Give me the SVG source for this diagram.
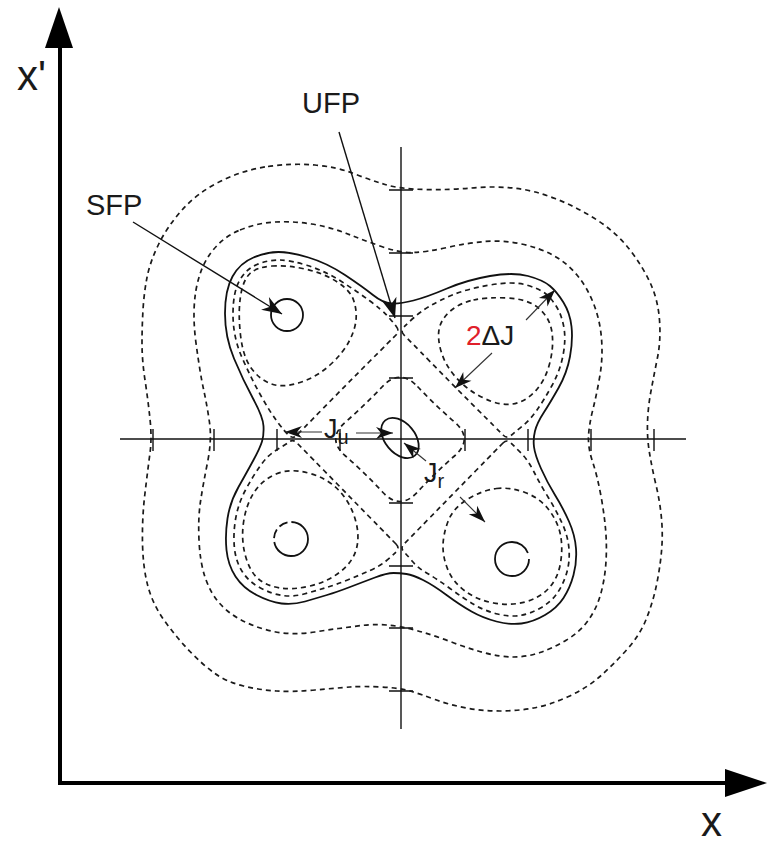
<svg xmlns="http://www.w3.org/2000/svg" width="773" height="845" viewBox="0 0 773 845">
<style>
.dash{fill:none;stroke:#1a1a1a;stroke-width:1.7;stroke-dasharray:5 4}
.sol{fill:none;stroke:#111;stroke-width:1.8}
.thin{fill:none;stroke:#111;stroke-width:1.4}
.arr{fill:none;stroke:#111;stroke-width:1.4;marker-end:url(#ah)}
.arrs{fill:none;stroke:#333;stroke-width:1.1;marker-end:url(#ahs)}
.lbl{font-family:"Liberation Sans",Arial,sans-serif;fill:#1a1a1a}
</style>
<defs>
<marker id="ah" viewBox="-21 -8 22 16" markerWidth="22" markerHeight="16" refX="0" refY="0" orient="auto" markerUnits="userSpaceOnUse">
<path d="M0,0 L-20,-7.5 L-14,0 L-20,7.5 Z" fill="#111"/>
</marker>
<marker id="ahs" viewBox="-18 -7 19 14" markerWidth="19" markerHeight="14" refX="0" refY="0" orient="auto" markerUnits="userSpaceOnUse">
<path d="M0,0 L-17,-6 L-12,0 L-17,6 Z" fill="#111"/>
</marker>
</defs>
<rect width="773" height="845" fill="#fff"/>

<g id="main-axes">
<line x1="60" y1="40" x2="60" y2="785" stroke="#000" stroke-width="4"/>
<line x1="58" y1="783" x2="730" y2="783" stroke="#000" stroke-width="4"/>
<polygon points="59,7 45,48 73,48" fill="#000"/>
<polygon points="767,783 725,769 725,797" fill="#000"/>
<text class="lbl" x="17" y="90" font-size="42">x'</text>
<text class="lbl" x="701" y="836" font-size="42">x</text>
</g>

<g id="crosshair">
<line class="thin" x1="401" y1="147" x2="401" y2="729"/>
<line class="thin" x1="120" y1="439" x2="686" y2="439"/>
<path class="thin" d="M389,190H413M389,253H413M389,316H413M389,378H413M389,503H413M389,566H413M389,628H413M389,691H413"/>
<path class="thin" d="M153,429V451M214,429V451M277,429V451M340,429V451M465,429V451M528,429V451M591,429V451M654,429V451"/>
</g>

<g id="ring-outer">
<path class="dash" d="M268,166.5 Q293,163 315,165 Q337,167 353.5,173.5 Q370,180 385,184.5 Q400,189 425,189.5 Q450,190 471.5,188 Q493,186 513,188 Q533,190 555,198.5 Q577,207 597,220 Q617,233 630,250 Q643,267 650.5,283.5 Q658,300 659.5,320 Q661,340 657.5,357.5 Q654,375 651,391 Q648,407 647.5,422.5 Q647,438 649.5,453 Q652,468 656,485 Q660,502 661.5,518.5 Q663,535 661.5,551.5 Q660,568 656.5,585 Q653,602 646.5,618.5 Q640,635 626.5,650 Q613,665 600,676.5 Q587,688 568.5,696.5 Q550,705 533.5,708 Q517,711 500,711 Q483,711 466.5,708 Q450,705 435,699.5 Q420,694 410,691 Q400,688 381.5,687 Q363,686 350,687 Q337,688 315,690 Q293,692 276.5,691 Q260,690 243.5,686 Q227,682 215,673.5 Q203,665 190,651.5 Q177,638 165,621.5 Q153,605 148,586.5 Q143,568 142.5,543 Q142,518 145,493 Q148,468 150,453 Q152,438 150,419 Q148,400 145,380 Q142,360 142,343.5 Q142,327 143,310 Q144,293 147,277.5 Q150,262 158.5,244.5 Q167,227 182,210 Q197,193 220,181.5 Q243,170 268,166.5 Z"/>
</g>
<g id="ring-second">
<path class="dash" d="M240,230 Q257,223 275,222 Q293,221 311.5,224 Q330,227 346.5,233.5 Q363,240 381.5,246.5 Q400,253 413.5,252.5 Q427,252 447,247.5 Q467,243 485,241.5 Q503,240 521.5,244 Q540,248 553.5,255.5 Q567,263 577,275 Q587,287 593.5,303.5 Q600,320 601.5,338.5 Q603,357 600,375 Q597,393 593,409 Q589,425 588.5,436.5 Q588,448 592.5,461.5 Q597,475 600.5,493.5 Q604,512 605.5,528.5 Q607,545 606,561.5 Q605,578 601,593 Q597,608 588.5,620 Q580,632 566.5,640 Q553,648 540,652.5 Q527,657 513.5,657 Q500,657 483.5,652.5 Q467,648 450,641.5 Q433,635 416.5,630.5 Q400,626 386.5,625 Q373,624 361.5,625.5 Q350,627 338.5,628.5 Q327,630 315,632 Q303,634 290,633.5 Q277,633 263.5,629 Q250,625 238.5,618.5 Q227,612 218.5,602 Q210,592 205,577 Q200,562 199,540 Q198,518 200.5,501.5 Q203,485 207.5,462.5 Q212,440 209.5,422.5 Q207,405 203.5,389 Q200,373 196,343 Q192,313 196,290 Q200,267 211.5,252 Q223,237 240,230 Z"/>
</g>
<g id="separatrix">
<path class="sol" d="M391.5,303.5 Q400,304 413.5,300.5 Q427,297 447,288.5 Q467,280 490,276 Q513,272 528,276 Q543,280 550,286 Q557,292 563.5,302.5 Q570,313 571.5,326.5 Q573,340 570,356.5 Q567,373 558.5,388 Q550,403 543.5,413 Q537,423 535,431 Q533,439 534,447 Q535,455 541,468.5 Q547,482 555,495 Q563,508 569,521.5 Q575,535 576,548.5 Q577,562 573.5,575 Q570,588 563.5,598 Q557,608 545,615 Q533,622 521.5,623.5 Q510,625 496.5,621.5 Q483,618 471.5,611.5 Q460,605 446.5,595 Q433,585 423,580 Q413,575 406.5,574 Q400,573 393.5,573 Q387,573 375,577.5 Q363,582 350,587 Q337,592 327,595 Q317,598 305,601.5 Q293,605 281.5,603.5 Q270,602 256.5,595 Q243,588 235.5,576.5 Q228,565 226.5,550 Q225,535 227.5,518.5 Q230,502 238.5,487 Q247,472 253.5,460 Q260,448 262,441.5 Q264,435 263.5,426 Q263,417 253,398.5 Q243,380 234,358.5 Q225,337 225,313.5 Q225,290 232.5,276.5 Q240,263 253.5,257.5 Q267,252 278.5,252 Q290,252 308.5,257.5 Q327,263 345,275 Q363,287 373,295 Q383,303 391.5,303.5 Z"/>
</g>

<g id="lobe-tl">
<path class="dash" d="M396,326 Q400,331 396,335 Q392,339 369,362 Q346,385 323,408.5 Q300,432 296.5,435.5 Q293,439 289,435.5 Q285,432 277.5,422 Q270,412 260.5,395 Q251,378 242,357.5 Q233,337 233,314.5 Q233,292 239.5,280.5 Q246,269 257,264.5 Q268,260 279,260 Q290,260 307.5,265.5 Q325,271 341.5,281.5 Q358,292 370,301 Q382,310 387,315.5 Q392,321 396,326 Z"/>
<path class="dash" d="M272,266 Q287,265 305,269 Q323,273 336.5,281.5 Q350,290 353.5,300 Q357,310 356,320 Q355,330 349,341.5 Q343,353 330,365 Q317,377 300,382.5 Q283,388 271.5,384 Q260,380 251.5,368.5 Q243,357 240.5,335 Q238,313 240.5,296.5 Q243,280 250,273.5 Q257,267 272,266 Z"/>
<circle class="sol" cx="287" cy="315" r="16"/>
</g>
<g id="lobe-tr">
<path class="dash" d="M404,335 Q400,331 404,327 Q408,323 414,317.5 Q420,312 430,306 Q440,300 453.5,294.5 Q467,289 490,285 Q513,281 526.5,285 Q540,289 546,294 Q552,299 557,307.5 Q562,316 564,328 Q566,340 563,355.5 Q560,371 552,385.5 Q544,400 537,410 Q530,420 522.5,426 Q515,432 511,435.5 Q507,439 503,435 Q499,431 476,408 Q453,385 430.5,362 Q408,339 404,335 Z"/>
<path class="dash" d="M473.5,300 Q487,297 507.5,298 Q528,299 539,308.5 Q550,318 552,332.5 Q554,347 549.5,364 Q545,381 535,391.5 Q525,402 512.5,404 Q500,406 483.5,398 Q467,390 456,377.5 Q445,365 441,351 Q437,337 439.5,327.5 Q442,318 451,310.5 Q460,303 473.5,300 Z"/>
</g>
<g id="lobe-br">
<path class="dash" d="M503,443 Q507,439 511,443 Q515,447 521.5,453.5 Q528,460 534,472 Q540,484 548,497 Q556,510 562,523 Q568,536 569,549 Q570,562 566.5,573.5 Q563,585 557,593.5 Q551,602 540.5,608 Q530,614 520,615.5 Q510,617 497.5,614 Q485,611 474,604.5 Q463,598 450,588.5 Q437,579 427.5,573.5 Q418,568 413,562 Q408,556 404,552 Q400,548 404,544 Q408,540 430.5,517 Q453,494 476,470.5 Q499,447 503,443 Z"/>
<path class="dash" d="M496.5,488.5 Q510,487 525,492.5 Q540,498 549,510 Q558,522 560.5,535 Q563,548 560.5,563 Q558,578 549,588 Q540,598 525,602 Q510,606 493.5,603 Q477,600 465,591 Q453,582 448,570 Q443,558 443,546.5 Q443,535 448,521.5 Q453,508 468,499 Q483,490 496.5,488.5 Z"/>
<circle class="sol" cx="512" cy="559" r="17" stroke-dasharray="100 7"/>
</g>
<g id="lobe-bl">
<path class="dash" d="M396,544 Q400,548 396,552 Q392,556 386,561 Q380,566 370,570.5 Q360,575 347.5,580 Q335,585 325,588 Q315,591 304,594 Q293,597 282.5,595.5 Q272,594 260.5,588 Q249,582 242.5,572 Q236,562 234.5,548.5 Q233,535 235.5,519.5 Q238,504 245.5,490 Q253,476 260.5,465.5 Q268,455 276.5,450 Q285,445 289,442 Q293,439 297,443 Q301,447 324,470.5 Q347,494 369.5,517 Q392,540 396,544 Z"/>
<path class="dash" d="M276,474 Q290,468 308.5,473 Q327,478 338.5,490 Q350,502 355,518.5 Q360,535 356.5,548.5 Q353,562 340,572 Q327,582 310,586 Q293,590 280,588 Q267,586 258.5,579 Q250,572 245.5,556 Q241,540 243.5,522.5 Q246,505 254,492.5 Q262,480 276,474 Z"/>
<circle class="sol" cx="291" cy="539" r="17" stroke-dasharray="50 4 9 4 9 4 27"/>
</g>
<g id="center">
<path class="dash" d="M417.5,386.5 Q435,405 454.5,422 Q474,439 454.5,456 Q435,473 417.5,492 Q400,511 382.5,492 Q365,473 345.5,456 Q326,439 345.5,422 Q365,405 382.5,386.5 Q400,368 417.5,386.5 Z"/>
<ellipse class="sol" cx="400" cy="438" rx="23" ry="15" transform="rotate(50 400 438)"/>
</g>

<g id="connectors">
<line class="arr" x1="133" y1="222" x2="282" y2="314"/>
<line class="arr" x1="339" y1="132" x2="395" y2="318"/>
<line class="arrs" x1="526" y1="320" x2="555" y2="290"/>
<line class="arrs" x1="492" y1="353" x2="455" y2="388"/>
<line class="arrs" x1="322" y1="432" x2="285" y2="432"/>
<line class="arrs" x1="356" y1="433" x2="393" y2="433"/>
<line class="arrs" x1="426" y1="461" x2="404" y2="443"/>
<line class="arrs" x1="460" y1="497" x2="485" y2="522"/>
</g>

<g id="labels">
<text class="lbl" x="86" y="215" font-size="29">SFP</text>
<text class="lbl" x="302" y="113" font-size="29">UFP</text>
<text class="lbl" x="466" y="345" font-size="28"><tspan fill="#e0202a">2</tspan>ΔJ</text>
<text class="lbl" x="324" y="438" font-size="27">J<tspan font-size="20" dy="6">u</tspan></text>
<text class="lbl" x="424" y="482" font-size="27">J<tspan font-size="20" dy="6">r</tspan></text>
</g>
</svg>
